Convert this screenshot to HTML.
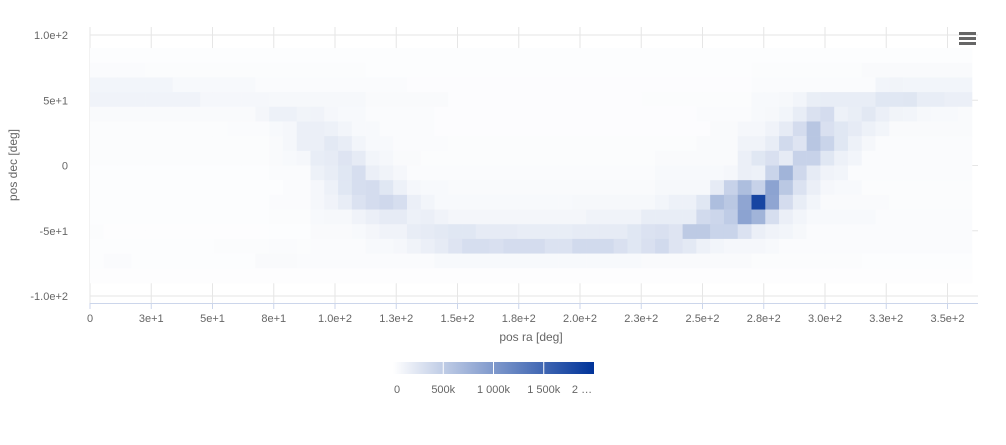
<!DOCTYPE html>
<html><head><meta charset="utf-8"><style>
body{margin:0;background:#fff;width:1006px;height:440px;overflow:hidden;font-family:"Liberation Sans",sans-serif}
svg text{font-family:"Liberation Sans",sans-serif}
</style></head><body>
<svg id="chart" width="1006" height="440" xmlns="http://www.w3.org/2000/svg">
<g id="grid"></g>
<g id="cells"></g>
<g id="axes"></g>
<text x="17" y="165" transform="rotate(-90 17 165)" text-anchor="middle" font-size="12" fill="#666">pos dec [deg]</text>
<text x="531" y="341" text-anchor="middle" font-size="12" fill="#666">pos ra [deg]</text>
<g>
<rect x="959" y="32" width="17" height="3" fill="#666"/><rect x="959" y="37" width="17" height="3" fill="#666"/><rect x="959" y="42" width="17" height="3" fill="#666"/>
</g>
<defs><linearGradient id="cg" x1="0" x2="1" y1="0" y2="0"><stop offset="0" stop-color="#ffffff"/><stop offset="1" stop-color="#003399"/></linearGradient></defs>
<g id="legend">
<rect x="393" y="362" width="201" height="12" fill="url(#cg)"/>
</g>
</svg>
<script>
const decBinsTop=[90,78.75,67.5,56.25,45,33.75,22.5,11.25,0,-11.25,-22.5,-33.75,-45,-56.25,-67.5,-78.75];
const raBinWidth=5.625;
const decBinHeight=11.25;
const xTickValues=[0,25,50,75,100,125,150,175,200,225,250,275,300,325,350];
const xTickLabels=["0","3e+1","5e+1","8e+1","1.0e+2","1.3e+2","1.5e+2","1.8e+2","2.0e+2","2.3e+2","2.5e+2","2.8e+2","3.0e+2","3.3e+2","3.5e+2"];
const yTickValues=[100,50,0,-50,-100];
const yTickLabels=["1.0e+2","5e+1","0","-5e+1","-1.0e+2"];
const colorTickValues=[0,500,1000,1500,2000];
const colorTickLabels=["0","500k","1 000k","1 500k","2 …"];
const colorMax=2000;
// counts in thousands, rows top (dec 90) to bottom
const row0=[20,20,20,20,20,20,20,20,20,20,20,20,20,20,20,20,20,20,20,20,20,20,20,20,20,20,20,20,20,20,20,20,20,20,20,20,20,20,20,20,20,20,20,20,20,20,20,20,20,20,20,20,20,20,20,20,20,20,20,20,20,20,20,20];
const row1=[40,40,40,40,30,30,30,30,30,30,30,30,30,30,30,30,30,30,30,30,20,20,20,20,20,20,20,20,20,20,20,20,20,20,20,20,20,20,20,20,20,20,20,20,20,20,20,20,30,30,30,30,30,30,30,30,50,50,50,50,50,50,50,50];
const row2=[100,100,100,100,100,100,60,60,60,60,60,60,40,40,40,40,40,40,40,40,40,40,40,25,25,25,25,25,25,25,25,25,25,25,25,25,25,25,25,25,25,25,25,25,25,25,25,25,40,40,40,40,40,40,40,40,40,100,110,100,100,100,100,100];
const row3=[120,120,120,120,120,120,120,120,80,80,80,80,80,70,70,70,70,70,70,70,50,50,50,50,50,50,25,25,25,25,25,25,25,25,25,25,25,25,25,25,30,30,30,30,30,30,30,30,60,60,70,100,170,180,180,180,180,240,240,250,180,180,160,160];
const row4=[50,50,50,50,50,50,50,50,50,50,50,50,90,140,140,110,120,80,60,60,40,40,40,40,40,25,25,25,25,25,25,25,25,25,25,25,25,25,25,25,25,25,25,25,40,40,40,40,60,70,100,180,290,340,140,170,230,160,110,100,70,60,60,50];
const row5=[30,30,30,30,30,30,30,30,30,30,40,40,40,60,80,160,160,140,100,60,60,40,40,40,40,25,25,25,25,25,25,25,25,25,25,25,25,25,25,25,25,25,25,25,25,50,50,80,80,120,200,340,560,300,240,200,140,100,50,50,50,50,50,50];
const row6=[30,30,30,30,30,30,30,30,30,30,30,30,30,50,80,160,160,220,180,100,60,60,40,40,40,40,30,30,30,30,30,30,30,30,30,30,30,30,30,30,30,30,30,30,50,50,50,120,120,180,360,260,560,420,240,140,80,40,40,40,40,40,40,40];
const row7=[30,30,30,30,30,30,30,30,30,30,30,30,30,50,60,80,180,200,260,200,100,80,50,50,30,30,30,30,30,30,30,30,30,30,30,30,30,30,30,30,30,50,50,50,50,50,50,160,240,300,200,440,440,240,140,100,40,40,40,40,40,40,40,40];
const row8=[20,20,20,20,20,20,20,20,20,20,20,20,20,40,40,40,140,180,240,320,160,120,80,40,40,40,40,40,40,40,40,40,40,40,40,40,40,40,40,40,40,60,60,60,60,60,80,160,140,420,740,380,200,120,100,40,40,40,40,40,40,40,40,40];
const row9=[20,20,20,20,20,20,20,20,20,20,20,20,20,20,40,40,80,140,240,320,340,240,140,80,60,60,50,50,50,50,50,50,50,50,50,50,50,50,50,50,50,70,70,70,70,200,440,640,440,900,540,280,160,80,60,60,30,30,30,30,30,30,30,30];
const row10=[20,20,20,20,20,20,20,20,20,20,20,20,20,40,40,40,80,120,180,280,340,380,320,160,100,60,60,60,60,60,60,60,60,60,60,70,70,70,70,70,70,100,140,140,240,640,540,880,1820,880,340,180,100,50,50,50,50,50,30,30,30,30,30,30];
const row11=[20,20,20,20,20,20,20,20,20,20,20,20,20,30,30,30,60,70,70,120,160,200,200,140,160,120,90,90,90,90,90,90,90,90,90,90,120,120,120,120,180,180,180,180,360,400,500,900,740,320,160,100,60,60,60,60,60,40,40,40,40,40,40,40];
const row12=[30,15,15,15,15,15,15,15,15,15,15,15,15,20,20,20,50,50,50,60,90,120,120,180,200,220,240,240,200,200,200,180,180,180,180,200,200,200,200,240,280,300,260,520,520,420,420,280,160,120,100,70,40,40,40,40,40,40,40,40,40,40,40,40];
const row13=[20,20,20,20,20,20,20,20,20,30,30,30,30,40,40,30,40,40,40,40,60,60,80,120,160,200,260,320,320,300,340,340,340,280,280,360,360,360,300,240,300,360,260,220,140,100,80,80,80,60,40,40,40,40,40,40,40,40,40,40,40,40,40,40];
const row14=[20,40,40,20,20,20,20,20,20,20,20,20,50,50,50,40,40,40,40,40,40,40,40,40,40,60,60,60,60,60,60,60,60,60,60,60,60,60,60,60,50,50,50,50,50,50,50,50,30,30,30,30,30,30,30,30,20,20,20,20,20,20,20,20];
const row15=[15,15,15,15,15,15,15,15,15,15,15,15,15,15,15,15,15,15,15,15,15,15,15,15,15,15,15,15,15,15,15,15,15,15,15,15,15,15,15,15,15,15,15,15,15,15,15,15,15,15,15,15,15,15,15,15,15,15,15,15,15,15,15,15];
const rows=[row0,row1,row2,row3,row4,row5,row6,row7,row8,row9,row10,row11,row12,row13,row14,row15];

const NS="http://www.w3.org/2000/svg";
const X0=90,X1=972,YT=27,YB=303;
function xs(v){return X0+v*(X1-X0)/360;}
function ys(v){return 165.5-v*1.305;}
function cs(v){return 393+v*201/colorMax;}
function col(v){const t=Math.max(0,Math.min(1,v/colorMax));return `rgb(${Math.round(255*(1-t))},${Math.round(255-204*t)},${Math.round(255-102*t)})`;}
function mk(tag,attrs,parent){const e=document.createElementNS(NS,tag);for(const k in attrs)e.setAttribute(k,attrs[k]);parent.appendChild(e);return e;}
const grid=document.getElementById('grid'),cells=document.getElementById('cells'),axes=document.getElementById('axes'),legend=document.getElementById('legend');
xTickValues.forEach((v,i)=>{
  const g=mk('line',{x1:xs(v),x2:xs(v),y1:YT,y2:YB,stroke:'#e6e6e6','stroke-width':1},grid);
  
  
  const t=mk('line',{x1:xs(v),x2:xs(v),y1:YB,y2:YB+6,stroke:'#ccd6eb','stroke-width':1},axes);
  
  
  const l=mk('text',{x:xs(v),y:322,'text-anchor':'middle','font-size':11,fill:'#666'},axes);
  l.textContent=xTickLabels[i];
  
  
});
yTickValues.forEach((v,i)=>{
  const g=mk('line',{x1:X0,x2:978,y1:ys(v),y2:ys(v),stroke:'#e6e6e6','stroke-width':1},grid);
  
  
  const l=mk('text',{x:68,y:ys(v)+4,'text-anchor':'end','font-size':11,fill:'#666'},axes);
  l.textContent=yTickLabels[i];
  
  
});
const xl=mk('line',{x1:X0,x2:978,y1:YB+0.5,y2:YB+0.5,stroke:'#ccd6eb','stroke-width':1},axes);


rows.forEach((r,ri)=>{
  const top=decBinsTop[ri];
  r.forEach((v,ci)=>{
    const x=xs(ci*raBinWidth),x2=xs((ci+1)*raBinWidth);
    const y=ys(top),y2=ys(top-decBinHeight);
    const c=mk('rect',{x:x,y:y,width:x2-x+0.3,height:y2-y+0.3,fill:col(v)},cells);
    
    
  });
});
colorTickValues.forEach((v,i)=>{
  if(i>0&&i<colorTickValues.length-1){
    const t=mk('line',{x1:cs(v),x2:cs(v),y1:362,y2:374,stroke:'#fff','stroke-width':1},legend);
    
    
  }
  const l=mk('text',{x:i===colorTickValues.length-1?cs(v)-12:cs(v)+(i===0?4:0),y:393,'text-anchor':'middle','font-size':11,fill:'#666'},legend);
  l.textContent=colorTickLabels[i];
  
  
});
</script>
</body></html>
